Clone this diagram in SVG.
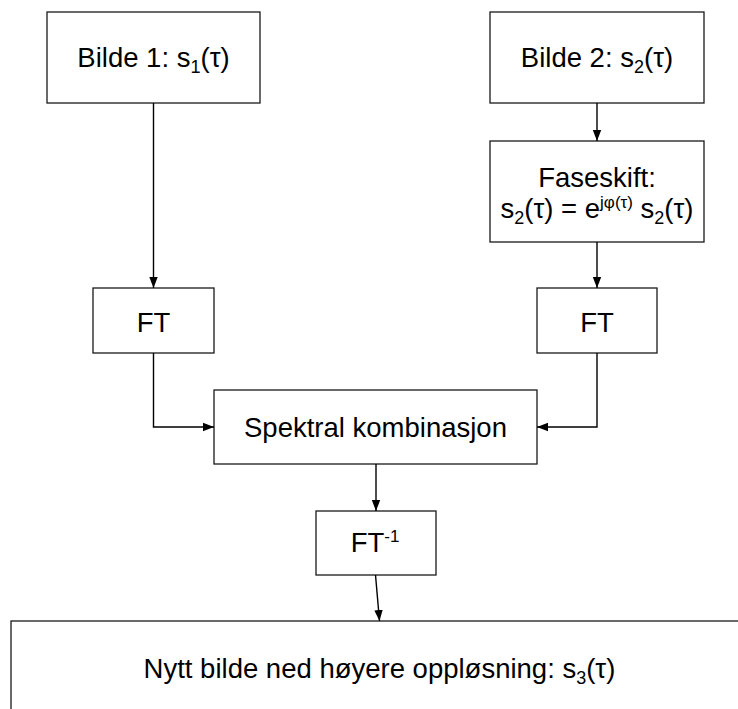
<svg xmlns="http://www.w3.org/2000/svg" width="738" height="709" viewBox="0 0 738 709">
<defs>
<style>
.box{fill:#fff;stroke:#1a1a1a;stroke-width:1.3}
.lbl{font-family:"Liberation Sans",Arial,sans-serif;font-size:27.5px;fill:#000;text-anchor:middle}
.sub{font-size:18px}
.sup{font-size:17px}
.conn{fill:none;stroke:#000;stroke-width:1.4}
</style>
<marker id="arr" markerUnits="userSpaceOnUse" markerWidth="12" markerHeight="10" viewBox="0 0 12 10" refX="11" refY="5" orient="auto">
<path d="M0,0.8 L11,5 L0,9.2 Z" fill="#000"/>
</marker>
</defs>
<rect width="738" height="709" fill="#fff"/>
<g id="bilde1">
<rect class="box" x="47" y="12" width="213" height="91"/>
<text class="lbl" x="153.5" y="67">Bilde 1: s<tspan class="sub" dy="6">1</tspan><tspan dy="-6">(τ)</tspan></text>
</g>
<g id="bilde2">
<rect class="box" x="490" y="12" width="214" height="91"/>
<text class="lbl" x="597" y="67">Bilde 2: s<tspan class="sub" dy="6">2</tspan><tspan dy="-6">(τ)</tspan></text>
</g>
<g id="faseskift">
<rect class="box" x="490" y="141" width="214" height="101"/>
<text class="lbl" x="597" y="187">Faseskift:</text>
<text class="lbl" x="597" y="218">s<tspan class="sub" dy="6">2</tspan><tspan dy="-6">(τ) = e</tspan><tspan class="sup" dy="-10">jφ(τ)</tspan><tspan dy="10"> s</tspan><tspan class="sub" dy="6">2</tspan><tspan dy="-6">(τ)</tspan></text>
</g>
<g id="ft1">
<rect class="box" x="93" y="288" width="121" height="65"/>
<text class="lbl" x="153.5" y="332">FT</text>
</g>
<g id="ft2">
<rect class="box" x="537" y="288" width="120" height="65"/>
<text class="lbl" x="597" y="332">FT</text>
</g>
<g id="spektral">
<rect class="box" x="214" y="390" width="323" height="74"/>
<text class="lbl" x="375.5" y="437">Spektral kombinasjon</text>
</g>
<g id="ift">
<rect class="box" x="316" y="511" width="120" height="64"/>
<text class="lbl" x="375" y="552">FT<tspan class="sup" dy="-10">-1</tspan></text>
</g>
<g id="nytt">
<rect class="box" x="11" y="621" width="800" height="120"/>
<text class="lbl" x="379.5" y="678">Nytt bilde ned høyere oppløsning: s<tspan class="sub" dy="6">3</tspan><tspan dy="-6">(τ)</tspan></text>
</g>
<g id="connectors">
<path class="conn" d="M153.5,103 L153.5,288" marker-end="url(#arr)"/>
<path class="conn" d="M597,103 L597,141" marker-end="url(#arr)"/>
<path class="conn" d="M597,242 L597,288" marker-end="url(#arr)"/>
<path class="conn" d="M153.5,353 L153.5,427 L214,427" marker-end="url(#arr)"/>
<path class="conn" d="M597,353 L597,427 L537,427" marker-end="url(#arr)"/>
<path class="conn" d="M376,464 L376,511" marker-end="url(#arr)"/>
<path class="conn" d="M375.5,575 L379.5,621" marker-end="url(#arr)"/>
</g>
</svg>
